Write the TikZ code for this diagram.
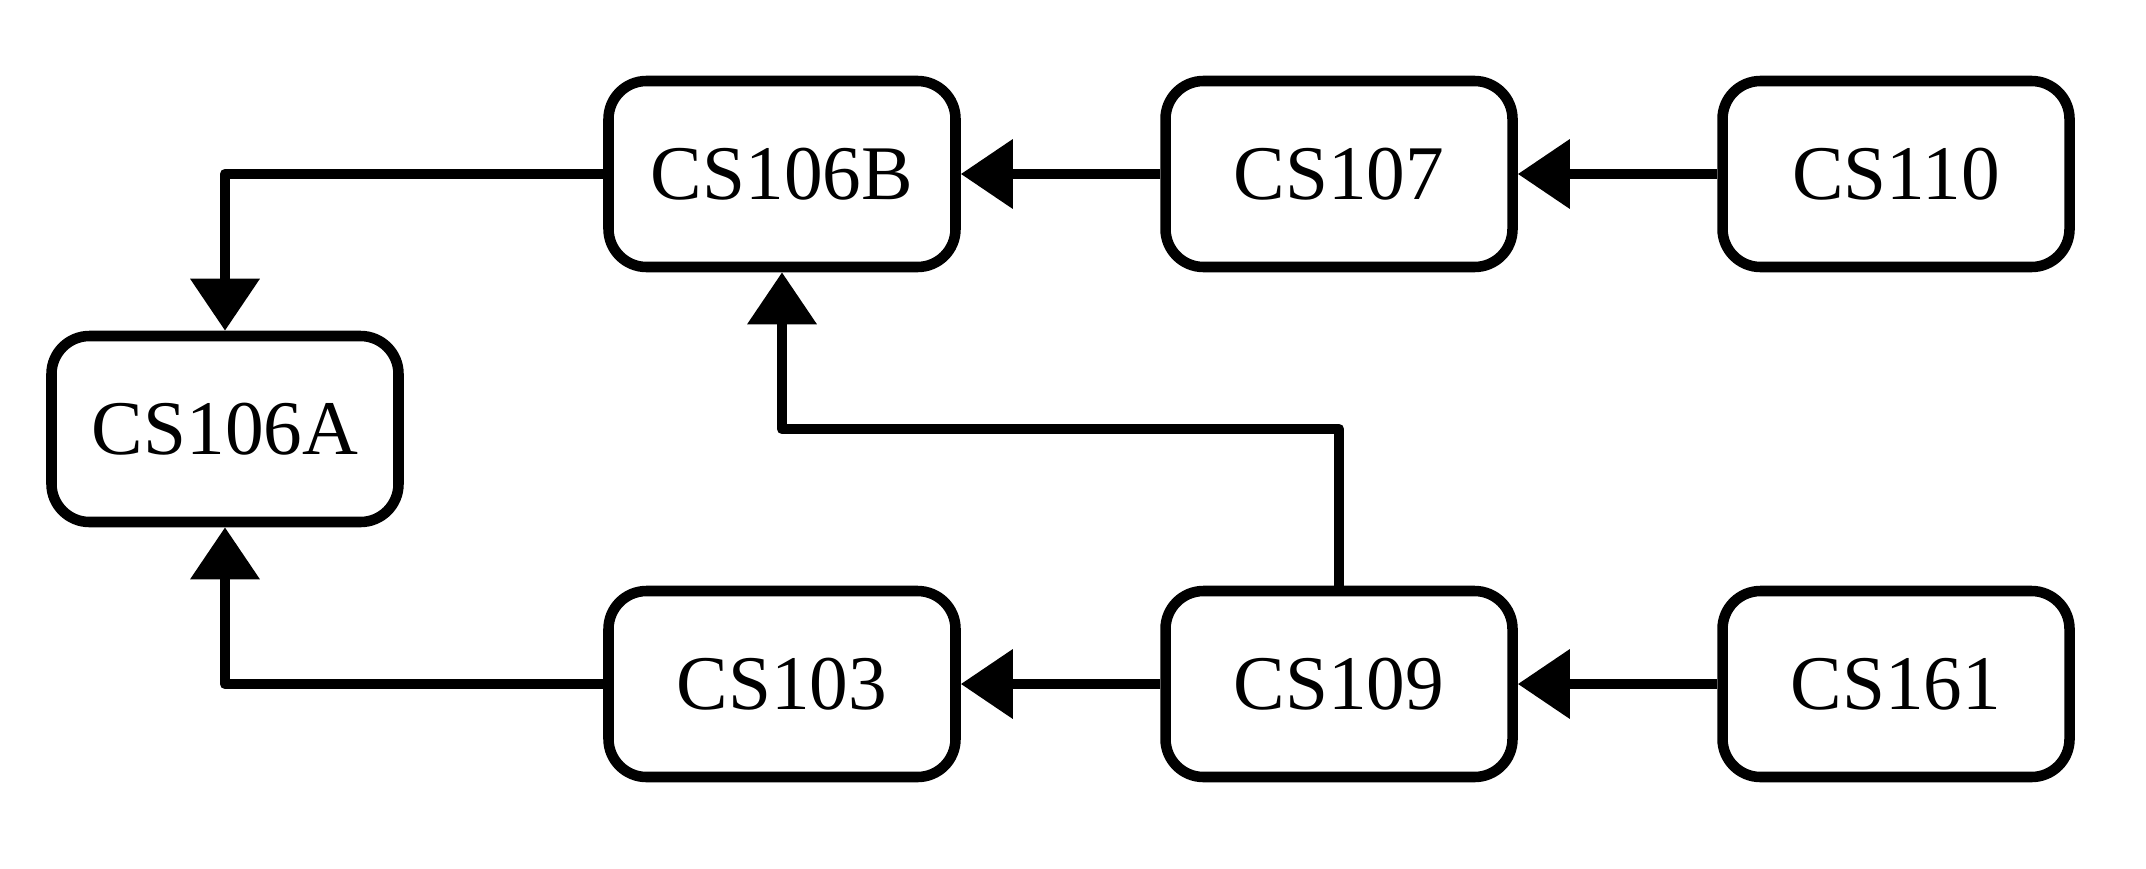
\documentclass[tikz,border=0pt]{standalone}
\usepackage{fontspec}
\setmainfont{Liberation Serif}
\usetikzlibrary{arrows.meta}

\begin{document}
\begin{tikzpicture}[
  course/.style={draw, line width=3pt, rounded corners=0.38cm,
    minimum width=3.47cm, minimum height=1.86cm,
    font=\fontsize{22}{26}\selectfont},
  prereq/.style={line width=3pt, line join=round,
    -{Triangle[length=0.52cm,width=0.67cm]}}
]
  \def\cx{2.25}
  \def\dx{5.57}
  \def\ytop{6.94}
  \def\ymid{4.39}
  \def\ybot{1.84}

  \useasboundingbox (0,0) rectangle (21.46,8.68);

  \node[course] (cs106a) at (\cx,\ymid) {CS106A};
  \node[course] (cs106b) at ({\cx+\dx},\ytop) {CS106B};
  \node[course] (cs107)  at ({\cx+2*\dx},\ytop) {CS107};
  \node[course] (cs110)  at ({\cx+3*\dx},\ytop) {CS110};
  \node[course] (cs103)  at ({\cx+\dx},\ybot) {CS103};
  \node[course] (cs109)  at ({\cx+2*\dx},\ybot) {CS109};
  \node[course] (cs161)  at ({\cx+3*\dx},\ybot) {CS161};

  \coordinate (turn) at (cs109 |- cs106a);

  \draw[prereq] (cs106b) -| (cs106a);
  \draw[prereq] (cs107) -- (cs106b);
  \draw[prereq] (cs110) -- (cs107);
  \draw[prereq] (cs103) -| (cs106a);
  \draw[prereq] (cs109) -- (cs103);
  \draw[prereq] (cs161) -- (cs109);
  \draw[prereq] (cs109) -- (turn) -| (cs106b);
\end{tikzpicture}
\end{document}
